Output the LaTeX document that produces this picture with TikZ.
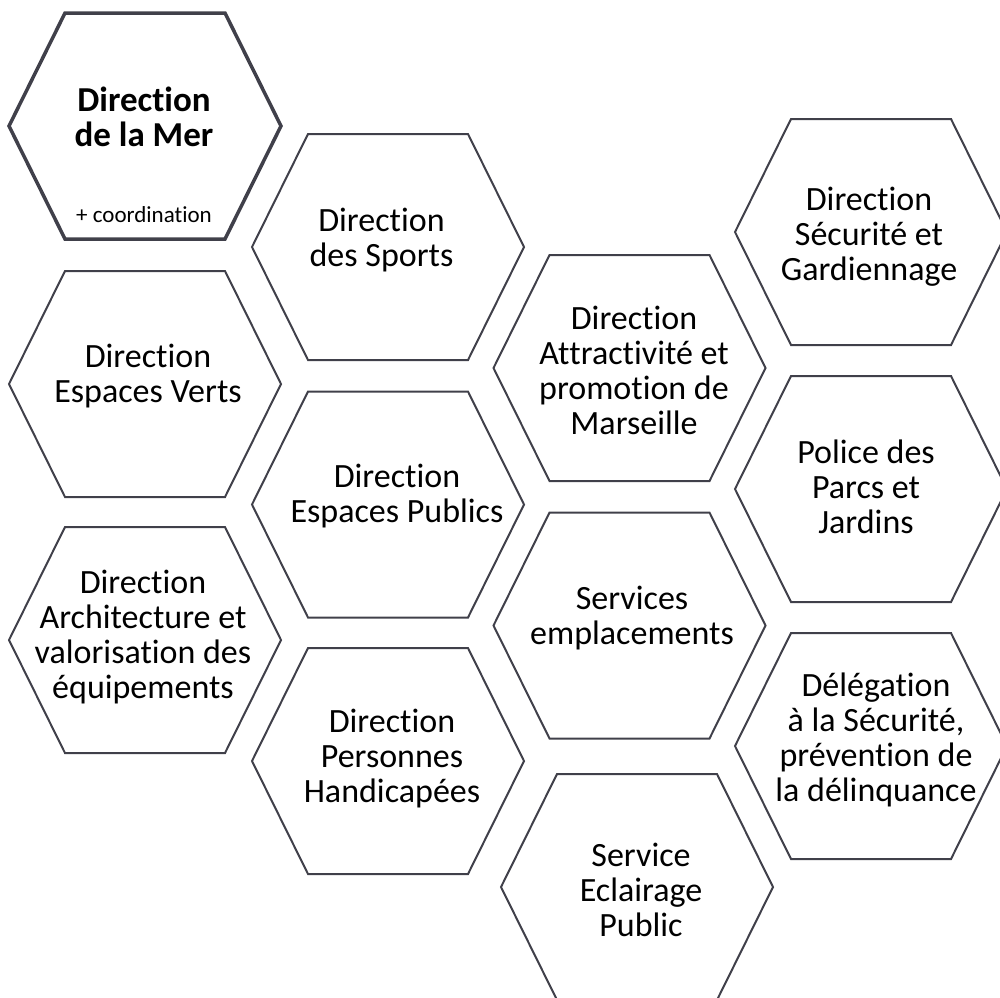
\documentclass[tikz,border=0pt]{standalone}
\usepackage{fontspec}
\setmainfont{Carlito}[Ligatures={NoCommon,NoContextual,NoRare},Contextuals=NoAlternate]
\definecolor{hexgray}{RGB}{64,64,74}
\newcommand\ti{t\kern0pt i}
\newcommand\hexagon[3][]{\draw[hexline,#1] (#2,#3) ++(-136,0) -- ++(56,-113) -- ++(160,0) -- ++(56,113) -- ++(-56,113) -- ++(-160,0) -- cycle;}
\begin{document}
\begin{tikzpicture}[x=1pt,y=-1pt,
  hexline/.style={draw=hexgray, line width=2pt, line join=miter},
  boldhex/.style={line width=3.5pt},
  lbl/.style={align=center, font=\fontsize{34}{35}\selectfont, text=black, inner sep=0pt},
  boldlbl/.style={align=center, font=\fontsize{35}{32}\selectfont\bfseries, text=black, inner sep=0pt},
  small/.style={font=\fontsize{23}{26}\selectfont, text=black, inner sep=0pt, anchor=base}]
\clip (0,0) rectangle (1000,997);
\useasboundingbox (0,0) rectangle (1000,997);
% hexagons
\hexagon[boldhex]{145}{126}
\hexagon{145}{384}
\hexagon{145}{640}
\hexagon{388}{247}
\hexagon{388}{504.5}
\hexagon{388}{761}
\hexagon{629.5}{368}
\hexagon{629.5}{625.5}
\hexagon{637}{887}
\hexagon{871}{232}
\hexagon{871}{489}
\hexagon{871}{746}
% labels
\node[boldlbl] (mer) at (144,121.6) {\strut Direc\ti on\\\strut de la Mer};
\node[small] (coord) at (144,222.7) {+ coordina\ti on};
\node[lbl] (verts) at (148,377.5) {\strut Direc\ti on\\\strut Espaces Verts};
\node[lbl] (archi) at (143,638.5) {\strut Direc\ti on\\\strut Architecture et\\\strut valorisa\ti on des\\\strut équipements};
\node[lbl] (sports) at (381.5,241.5) {\strut Direc\ti on\\\strut des Sports};
\node[lbl] (publics) at (397,498) {\strut Direc\ti on\\\strut Espaces Publics};
\node[lbl] (handi) at (392,760) {\strut Direc\ti on\\\strut Personnes\\\strut Handicapées};
\node[lbl] (attract) at (634,375) {\strut Direc\ti on\\\strut At\kern0pt trac\ti vité et\\\strut promo\ti on de\\\strut Marseille};
\node[lbl] (emplac) at (632,619.5) {\strut Services\\\strut emplacements};
\node[lbl] (eclair) at (641,894.5) {\strut Service\\\strut Eclairage\\\strut Public};
\node[lbl] (secur) at (869,238.7) {\strut Direc\ti on\\\strut Sécurité et\\\strut Gardiennage};
\node[lbl] (police) at (866,491) {\strut Police des\\\strut Parcs et\\\strut Jardins};
\node[lbl] (deleg) at (876,741.5) {\strut Déléga\ti on\\\strut à la Sécurité,\\\strut préven\ti on de\\\strut la délinquance};
\end{tikzpicture}
\end{document}
